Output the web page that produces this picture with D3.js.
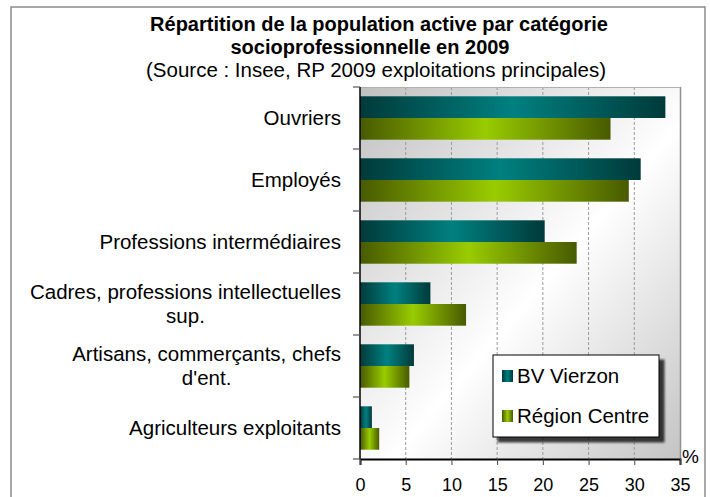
<!DOCTYPE html>
<html>
<head>
<meta charset="utf-8">
<script src="https://cdn.jsdelivr.net/npm/d3@7"></script>
<style>
    body { margin: 0; background: #fff; }
    svg { display: block; font-family: Arial, "Liberation Sans", sans-serif; }
</style>
</head>
<body>
<div id="chart-area"></div>
<script>
// data
const categories = [
    ['Ouvriers'],
    ['Employés'],
    ['Professions intermédiaires'],
    ['Cadres, professions intellectuelles', 'sup.'],
    ['Artisans, commerçants, chefs', "d'ent."],
    ['Agriculteurs exploitants']
];
const seriesNames = ['BV Vierzon', 'Région Centre'];
const bvVierzon = [33.4, 30.7, 20.2, 7.7, 5.9, 1.3];
const regionCentre = [27.4, 29.4, 23.7, 11.6, 5.4, 2.1];
const xTicks = [0, 5, 10, 15, 20, 25, 30, 35];

const WIDTH = 710;
const HEIGHT = 497;
const MARGIN = {top: 87, right: 30, bottom: 38, left: 360};
const plotW = WIDTH - MARGIN.left - MARGIN.right;
const plotH = HEIGHT - MARGIN.top - MARGIN.bottom;
const FONT = 'Arial, "Liberation Sans", sans-serif';

const colors = [
    {dark: '#003a3a', light: '#008080'},
    {dark: '#485a00', light: '#99cc00'}
];

const svg = d3.select('#chart-area').append('svg')
    .attr('width', WIDTH)
    .attr('height', HEIGHT);

const defs = svg.append('defs');

colors.forEach((c, i) => {
    const g = defs.append('linearGradient')
        .attr('id', 'bar-grad-' + i)
        .attr('x1', 0).attr('x2', 1).attr('y1', 0).attr('y2', 0);
    g.append('stop').attr('offset', '0%').attr('stop-color', c.dark);
    g.append('stop').attr('offset', '50%').attr('stop-color', c.light);
    g.append('stop').attr('offset', '100%').attr('stop-color', c.dark);
});

const bg = defs.append('linearGradient')
    .attr('id', 'plot-bg')
    .attr('x1', 0).attr('y1', 0).attr('x2', 1).attr('y2', 1);
bg.append('stop').attr('offset', '0%').attr('stop-color', '#c0c0c0');
bg.append('stop').attr('offset', '55%').attr('stop-color', '#ffffff');
bg.append('stop').attr('offset', '100%').attr('stop-color', '#c4c4c4');

const shadow = defs.append('filter').attr('id', 'legend-shadow')
    .attr('x', '-10%').attr('y', '-10%').attr('width', '130%').attr('height', '140%');
shadow.append('feGaussianBlur').attr('in', 'SourceAlpha').attr('stdDeviation', 1.2);
shadow.append('feOffset').attr('dx', 5).attr('dy', 5).attr('result', 'off');
shadow.append('feComponentTransfer').append('feFuncA').attr('type', 'linear').attr('slope', 0.75);
const merge = shadow.append('feMerge');
merge.append('feMergeNode');
merge.append('feMergeNode').attr('in', 'SourceGraphic');

// outer frame
svg.append('rect')
    .attr('x', 11).attr('y', 7)
    .attr('width', 694).attr('height', 500)
    .attr('fill', 'none')
    .attr('stroke', '#8c8c8c')
    .attr('stroke-width', 1.5);

// title
const titleLines = [
    {text: 'Répartition de la population active par catégorie', x: 379, y: 31, size: 20, bold: true},
    {text: 'socioprofessionnelle en 2009', x: 370, y: 53.5, size: 20, bold: true},
    {text: '(Source : Insee, RP 2009 exploitations principales)', x: 376, y: 76.5, size: 20.5, bold: false}
];
svg.selectAll('.title-line')
    .data(titleLines)
    .enter().append('text')
    .attr('class', 'title-line')
    .attr('x', d => d.x)
    .attr('y', d => d.y)
    .attr('text-anchor', 'middle')
    .attr('font-size', d => d.size + 'px')
    .attr('font-weight', d => d.bold ? 'bold' : 'normal')
    .text(d => d.text);

const graph = svg.append('g')
    .attr('transform', `translate(${MARGIN.left}, ${MARGIN.top})`);

const xScale = d3.scaleLinear()
    .domain([0, 35])
    .range([0, plotW]);

const yScale = d3.scaleBand()
    .domain(d3.range(categories.length))
    .range([0, plotH])
    .paddingInner(0.3)
    .paddingOuter(0.15);

const sub = d3.scaleBand()
    .domain([0, 1])
    .range([0, yScale.bandwidth()]);

// plot background
graph.append('rect')
    .attr('width', plotW)
    .attr('height', plotH)
    .attr('fill', 'url(#plot-bg)');

// gridlines
graph.selectAll('.grid')
    .data(xTicks.slice(1, -1))
    .enter().append('line')
    .attr('class', 'grid')
    .attr('x1', d => xScale(d)).attr('x2', d => xScale(d))
    .attr('y1', 0).attr('y2', plotH)
    .attr('stroke', '#9a9a9a')
    .attr('stroke-width', 1)
    .attr('stroke-dasharray', '3,2');

// right border of plot
graph.append('line')
    .attr('x1', plotW + 0.5).attr('x2', plotW + 0.5)
    .attr('y1', 0).attr('y2', plotH)
    .attr('stroke', '#909090')
    .attr('stroke-width', 1.5);
graph.append('line')
    .attr('x1', 0).attr('x2', plotW)
    .attr('y1', 0.5).attr('y2', 0.5)
    .attr('stroke', '#b0b0b0')
    .attr('stroke-width', 1);

// bars
const series = [bvVierzon, regionCentre];
series.forEach((values, s) => {
    graph.selectAll('.bar-' + s)
        .data(values)
        .enter().append('rect')
        .attr('class', 'bar-' + s)
        .attr('x', xScale(0))
        .attr('y', (d, i) => yScale(i) + sub(s))
        .attr('width', d => xScale(d) - xScale(0))
        .attr('height', sub.bandwidth())
        .attr('fill', `url(#bar-grad-${s})`);
});

// x axis
const xAxisGroup = graph.append('g')
    .attr('transform', `translate(0, ${plotH})`)
    .call(d3.axisBottom(xScale).tickValues(xTicks).tickSize(6).tickPadding(13));
xAxisGroup.select('.domain').attr('stroke', '#000').attr('stroke-width', 2);
xAxisGroup.selectAll('.tick line').attr('stroke', '#444');
xAxisGroup.selectAll('.tick text')
    .attr('font-size', '18px')
    .attr('font-family', FONT)
    .attr('fill', '#000');

// y axis line with ticks at band boundaries
const step = plotH / categories.length;
graph.append('line')
    .attr('x1', 0).attr('x2', 0)
    .attr('y1', 0).attr('y2', plotH)
    .attr('stroke', '#000')
    .attr('stroke-width', 1.5);
graph.selectAll('.ytick')
    .data(d3.range(categories.length + 1))
    .enter().append('line')
    .attr('class', 'ytick')
    .attr('x1', -7).attr('x2', 0)
    .attr('y1', d => d * step).attr('y2', d => d * step)
    .attr('stroke', '#555')
    .attr('stroke-width', 1.2);

// category labels, lines centered within a right-aligned block
const labelRight = -19;
const lineH = 24;
categories.forEach((lines, i) => {
    const cy = (i + 0.5) * step;
    const g = graph.append('g').attr('class', 'cat-label');
    const texts = lines.map((l, k) => g.append('text')
        .attr('font-size', '20.5px')
        .attr('fill', '#000')
        .attr('text-anchor', 'middle')
        .attr('y', cy + (k - (lines.length - 1) / 2) * lineH + 7)
        .text(l));
    const maxW = d3.max(texts, t => t.node().getComputedTextLength());
    texts.forEach(t => t.attr('x', labelRight - maxW / 2));
});

// % unit label
svg.append('text')
    .attr('x', 682)
    .attr('y', 463)
    .attr('font-size', '19px')
    .text('%');

// legend
const legend = svg.append('g')
    .attr('transform', 'translate(493, 355)');
legend.append('rect')
    .attr('width', 166)
    .attr('height', 82)
    .attr('fill', '#fff')
    .attr('stroke', '#000')
    .attr('stroke-width', 1)
    .attr('filter', 'url(#legend-shadow)');
seriesNames.forEach((name, i) => {
    const row = legend.append('g')
        .attr('transform', `translate(9, ${21 + i * 40})`);
    row.append('rect')
        .attr('y', -6)
        .attr('width', 11)
        .attr('height', 12)
        .attr('fill', `url(#bar-grad-${i})`);
    row.append('text')
        .attr('x', 15)
        .attr('y', 7)
        .attr('font-size', '20.5px')
        .text(name);
});
</script>
</body>
</html>
